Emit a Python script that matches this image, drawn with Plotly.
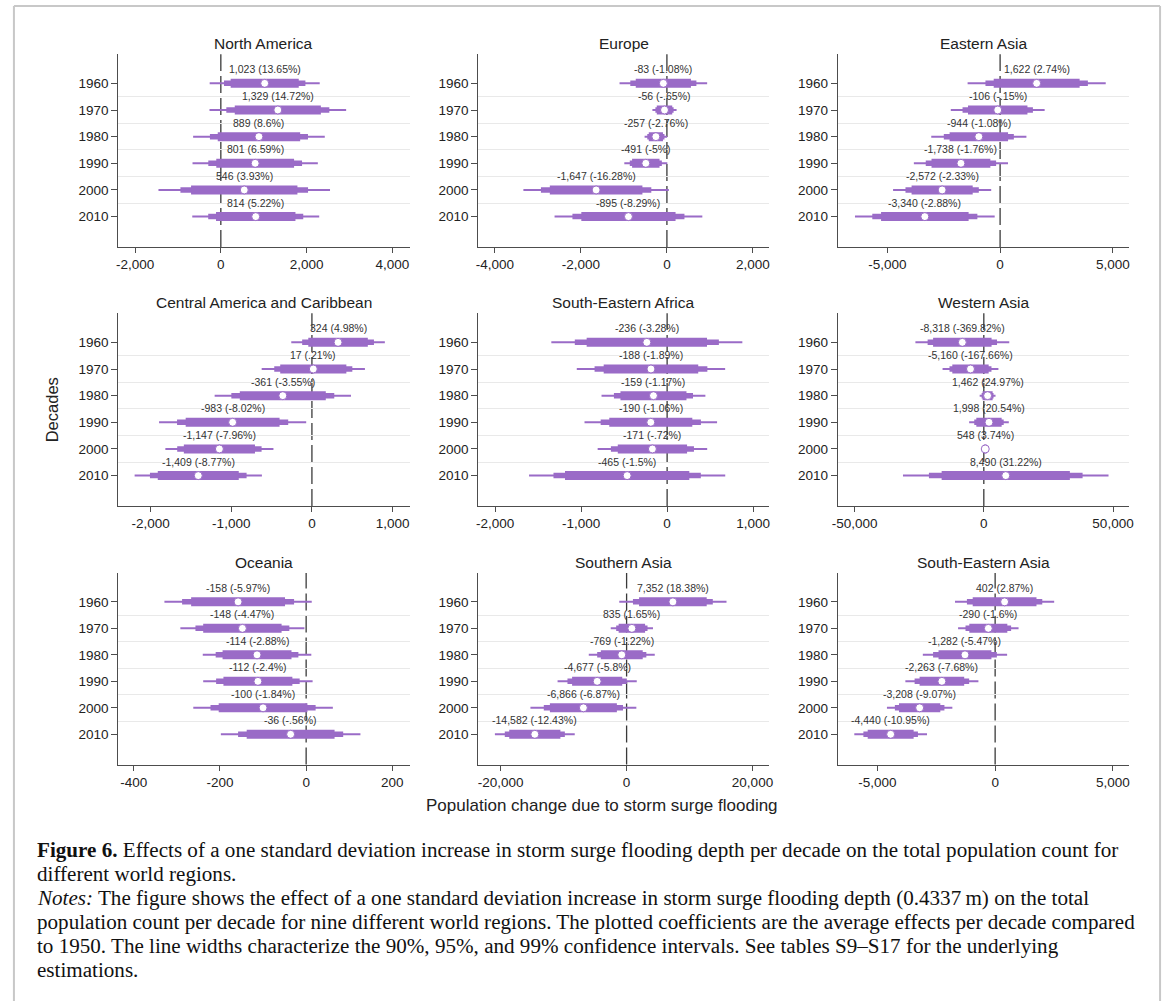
import plotly.graph_objects as go

# ---------------------------------------------------------------------------
# Data: point estimates, percent changes and half-widths of the 90/95/99 % CIs
# ---------------------------------------------------------------------------
decades = [1960, 1970, 1980, 1990, 2000, 2010]

north_america_est = [1023, 1329, 889, 801, 546, 814]
north_america_pct = [13.65, 14.72, 8.6, 6.59, 3.93, 5.22]
north_america_hw90 = [794, 1004, 961, 907, 1240, 926]
north_america_hw95 = [949, 1201, 1143, 1093, 1488, 1108]
north_america_hw99 = [1283, 1593, 1535, 1461, 2000, 1480]

europe_est = [-83, -56, -257, -491, -1647, -895]
europe_pct = [-1.08, -0.65, -2.76, -5, -16.28, -8.29]
europe_hw90 = [642, 180, 165, 319, 1077, 1096]
europe_hw95 = [769, 212, 200, 373, 1284, 1303]
europe_hw99 = [1019, 281, 262, 500, 1692, 1719]

eastern_asia_est = [1622, -106, -944, -1738, -2572, -3340]
eastern_asia_pct = [2.74, -0.15, -1.08, -1.76, -2.33, -2.88]
eastern_asia_hw90 = [1906, 1319, 1297, 1305, 1356, 1942]
eastern_asia_hw95 = [2272, 1561, 1554, 1561, 1627, 2331]
eastern_asia_hw99 = [3064, 2082, 2111, 2089, 2177, 3100]

central_america_est = [324, 17, -361, -983, -1147, -1409]
central_america_pct = [4.98, 0.21, -3.55, -8.02, -7.96, -8.77]
central_america_hw90 = [369, 410, 533, 582, 441, 502]
central_america_hw95 = [445, 484, 638, 689, 523, 599]
central_america_hw99 = [580, 640, 845, 912, 670, 789]

se_africa_est = [-236, -188, -159, -190, -171, -465]
se_africa_pct = [-3.28, -1.89, -1.17, -1.06, -0.72, -1.5]
se_africa_hw90 = [700, 550, 384, 483, 403, 723]
se_africa_hw95 = [838, 656, 460, 583, 483, 857]
se_africa_hw99 = [1111, 863, 604, 771, 637, 1141]

western_asia_est = [-8318, -5160, 1462, 1998, 548, 8490]
western_asia_pct = [-369.82, -167.66, 24.97, 20.54, 3.74, 31.22]
western_asia_hw90 = [11319, 7035, 1950, 4900, 570, 24813]
western_asia_hw95 = [13430, 8122, 2300, 5700, 680, 29737]
western_asia_hw99 = [18162, 10808, 3070, 7674, 900, 39777]

oceania_est = [-158, -148, -114, -112, -100, -36]
oceania_pct = [-5.97, -4.47, -2.88, -2.4, -1.84, -0.56]
oceania_hw90 = [109, 91, 80, 80, 103, 102]
oceania_hw95 = [130, 109, 96, 97, 122, 122]
oceania_hw99 = [171, 144, 126, 127, 162, 162]

southern_asia_est = [7352, 835, -769, -4677, -6866, -14582]
southern_asia_pct = [18.38, 1.65, -1.22, -5.8, -6.87, -12.43]
southern_asia_hw90 = [5373, 2100, 3329, 3984, 5321, 4063]
southern_asia_hw95 = [6343, 2490, 3905, 4718, 6290, 4770]
southern_asia_hw99 = [8518, 3355, 5242, 6290, 8413, 6343]

se_asia_est = [402, -290, -1282, -2263, -3208, -4440]
se_asia_pct = [2.87, -1.6, -5.47, -7.68, -9.07, -10.95]
se_asia_hw90 = [1355, 808, 1124, 948, 878, 976]
se_asia_hw95 = [1601, 969, 1355, 1159, 1053, 1159]
se_asia_hw99 = [2107, 1285, 1791, 1552, 1390, 1545]

region_names = [
    "North America", "Europe", "Eastern Asia",
    "Central America and Caribbean", "South-Eastern Africa", "Western Asia",
    "Oceania", "Southern Asia", "South-Eastern Asia",
]

x_ranges = [
    [-2390, 4400], [-4385, 2385], [-7200, 5720],
    [-2400, 1210], [-2195, 1190], [-56500, 56200],
    [-436, 240], [-23540, 22690], [-6685, 5690],
]
x_ticks = [
    [-2000, 0, 2000, 4000], [-4000, -2000, 0, 2000], [-5000, 0, 5000],
    [-2000, -1000, 0, 1000], [-2000, -1000, 0, 1000], [-50000, 0, 50000],
    [-400, -200, 0, 200], [-20000, 0, 20000], [-5000, 0, 5000],
]

series = [
    (north_america_est, north_america_pct, north_america_hw90, north_america_hw95, north_america_hw99),
    (europe_est, europe_pct, europe_hw90, europe_hw95, europe_hw99),
    (eastern_asia_est, eastern_asia_pct, eastern_asia_hw90, eastern_asia_hw95, eastern_asia_hw99),
    (central_america_est, central_america_pct, central_america_hw90, central_america_hw95, central_america_hw99),
    (se_africa_est, se_africa_pct, se_africa_hw90, se_africa_hw95, se_africa_hw99),
    (western_asia_est, western_asia_pct, western_asia_hw90, western_asia_hw95, western_asia_hw99),
    (oceania_est, oceania_pct, oceania_hw90, oceania_hw95, oceania_hw99),
    (southern_asia_est, southern_asia_pct, southern_asia_hw90, southern_asia_hw95, southern_asia_hw99),
    (se_asia_est, se_asia_pct, se_asia_hw90, se_asia_hw95, se_asia_hw99),
]

caption_lines = [
    "<b>Figure 6.</b> Effects of a one standard deviation increase in storm surge flooding depth per decade on the total population count for",
    "different world regions.",
    "<i>Notes:</i> The figure shows the effect of a one standard deviation increase in storm surge flooding depth (0.4337\u2009m) on the total",
    "population count per decade for nine different world regions. The plotted coefficients are the average effects per decade compared",
    "to 1950. The line widths characterize the 90%, 95%, and 99% confidence intervals. See tables S9\u2013S17 for the underlying",
    "estimations.",
]

# ---------------------------------------------------------------------------
# Styling and geometry
# ---------------------------------------------------------------------------
W, H = 1171, 1001
PURPLE = "#9a6bc7"
AXIS_COLOR = "#4d4d4d"
TEXT_COLOR = "#222222"
SANS = "Arial, Liberation Sans, sans-serif"
SERIF = "Liberation Serif, Times New Roman, serif"

col_px = [(113.3, 407.0), (476.5, 770.0), (839.0, 1132.7)]
row_px = [(54.3, 247.0), (313.3, 506.0), (573.0, 764.5)]
Y_RANGE = [2021.4, 1949.1]
GRID_VALUES = [1965, 1975, 1985, 1995, 2005]


def fmt_pct(p):
    s = f"{p:.2f}".rstrip("0").rstrip(".")
    if s.startswith("-0."):
        s = "-" + s[2:]
    elif s.startswith("0."):
        s = s[1:]
    return s


def segments(est, hw):
    xs, ys = [], []
    for d, e, h in zip(decades, est, hw):
        xs += [e - h, e + h, None]
        ys += [d, d, None]
    return xs, ys


fig = go.Figure()
annotations = []
shapes = []

for i, (name, (est, pct, hw90, hw95, hw99)) in enumerate(zip(region_names, series)):
    r, c = divmod(i, 3)
    sfx = "" if i == 0 else str(i + 1)
    xa, ya = "x" + sfx, "y" + sfx
    x0, x1 = col_px[c]
    top, bottom = row_px[r]

    # confidence intervals: 99 % thin, 95 % medium, 90 % thick
    for hw, width in ((hw99, 2), (hw95, 5.5), (hw90, 9)):
        xs, ys = segments(est, hw)
        fig.add_trace(go.Scatter(
            x=xs, y=ys, mode="lines", xaxis=xa, yaxis=ya,
            line=dict(color=PURPLE, width=width),
            hoverinfo="skip", showlegend=False,
        ))
    fig.add_trace(go.Scatter(
        x=est, y=decades, mode="markers", xaxis=xa, yaxis=ya,
        marker=dict(color="white", size=8, line=dict(color=PURPLE, width=1)),
        showlegend=False,
    ))

    for d, e, p in zip(decades, est, pct):
        annotations.append(dict(
            x=e, y=d, xref=xa, yref=ya, yshift=14, showarrow=False,
            text=f"{e:,} ({fmt_pct(p)}%)",
            font=dict(family=SANS, size=10.5, color="#333333"),
            xanchor="center", yanchor="middle",
        ))

    # dashed reference line at zero
    shapes.append(dict(
        type="line", xref=xa, yref="paper", x0=0, x1=0,
        y0=1 - bottom / H, y1=1 - top / H,
        line=dict(color="#3a3a3a", width=1.3, dash="17px,5px"), layer="below",
    ))

    annotations.append(dict(
        x=(x0 + x1) / 2 / W, y=1 - (top - 11) / H, xref="paper", yref="paper",
        text=name, showarrow=False, xanchor="center", yanchor="middle",
        font=dict(family=SANS, size=15.5, color=TEXT_COLOR),
    ))

    fig.layout["xaxis" + sfx] = dict(
        domain=[x0 / W, x1 / W], anchor=ya, range=x_ranges[i],
        tickmode="array", tickvals=x_ticks[i],
        ticktext=[f"{v:,}" for v in x_ticks[i]],
        showline=True, linecolor=AXIS_COLOR, linewidth=1.2,
        ticks="outside", ticklen=5, tickcolor=AXIS_COLOR, tickwidth=1.2,
        showgrid=False, zeroline=False,
        tickfont=dict(family=SANS, size=13.5, color=TEXT_COLOR),
    )
    fig.layout["yaxis" + sfx] = dict(
        domain=[1 - bottom / H, 1 - top / H], anchor=xa, range=Y_RANGE,
        tickmode="array", tickvals=decades, ticktext=[str(d) for d in decades],
        showline=True, linecolor=AXIS_COLOR, linewidth=1.2,
        ticks="outside", ticklen=6, tickcolor=AXIS_COLOR, tickwidth=1.2,
        showgrid=False, zeroline=False,
        minor=dict(tickmode="array", tickvals=GRID_VALUES, showgrid=True,
                   gridcolor="#e9e9e9", gridwidth=1, ticks=""),
        tickfont=dict(family=SANS, size=13.5, color=TEXT_COLOR),
    )

# shared axis titles
annotations.append(dict(
    x=46.7 / W, y=1 - 410 / H, xref="paper", yref="paper", text="Decades",
    textangle=-90, showarrow=False, xanchor="center", yanchor="middle",
    font=dict(family=SANS, size=16.5, color=TEXT_COLOR),
))
annotations.append(dict(
    x=601 / W, y=1 - 805 / H, xref="paper", yref="paper",
    text="Population change due to storm surge flooding",
    showarrow=False, xanchor="center", yanchor="middle",
    font=dict(family=SANS, size=17, color=TEXT_COLOR),
))

# caption below the panels
for k, line in enumerate(caption_lines):
    annotations.append(dict(
        x=29 / W, y=1 - (850 + 24 * k) / H, xref="paper", yref="paper",
        text=line, showarrow=False, xanchor="left", yanchor="middle",
        font=dict(family=SERIF, size=21.1, color="#111111"),
    ))

# open frame around the figure
frame_x0, frame_x1, frame_top = 8 / W, 1164 / W, 1 - 6 / H
for fx0, fy0, fx1, fy1 in ((frame_x0, 0, frame_x0, frame_top),
                           (frame_x0, frame_top, frame_x1, frame_top),
                           (frame_x1, frame_top, frame_x1, 0)):
    shapes.append(dict(
        type="line", xref="paper", yref="paper",
        x0=fx0, y0=fy0, x1=fx1, y1=fy1,
        line=dict(color="#c8c8c8", width=2), layer="above",
    ))

fig.update_layout(
    width=W, height=H, margin=dict(l=0, r=0, t=0, b=0),
    paper_bgcolor="white", plot_bgcolor="white",
    annotations=annotations, shapes=shapes, showlegend=False,
)

fig.write_html("out.html")
